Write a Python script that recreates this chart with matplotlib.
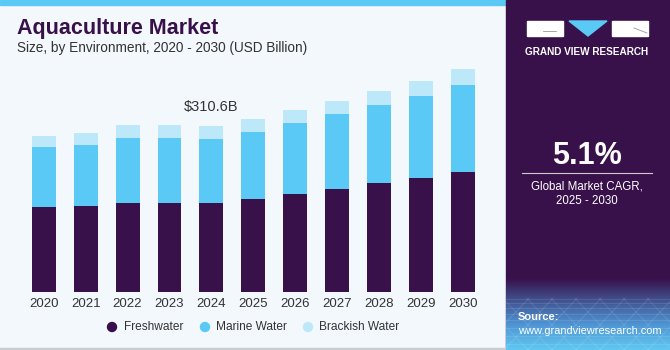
import matplotlib.pyplot as plt
import matplotlib.patches as mpatches
from matplotlib.colors import LinearSegmentedColormap
import numpy as np

years = ["2020", "2021", "2022", "2023", "2024", "2025", "2026", "2027", "2028", "2029", "2030"]
freshwater = [158.8, 161.2, 167.4, 167.4, 167.4, 174.9, 183.7, 193.6, 203.8, 214.3, 225.5]
marine = [112.5, 114.3, 121.8, 121.8, 120.0, 125.6, 132.5, 139.5, 146.8, 153.7, 162.0]
brackish = [21.2, 23.1, 23.2, 23.2, 23.2, 23.8, 24.9, 24.9, 26.8, 27.6, 30.0]
labels = ["Freshwater", "Marine Water", "Brackish Water"]
highlight_year = "2024"
highlight_text = "$310.6B"
cagr = "5.1%"

purple = "#38104A"
blue = "#5BC9F5"
light_blue = "#BDE8F9"
bg = "#F3F8FC"

plt.rcParams['font.family'] = ['Liberation Sans', 'DejaVu Sans']

W, H = 670, 350
fig = plt.figure(figsize=(W / 100, H / 100), dpi=100)
fig.patch.set_facecolor(bg)


def px(x, y):
    # pixel (from top-left) to figure fraction
    return x / W, 1 - y / H


# top stripe, right panel, bottom border
fig.patches.append(mpatches.Rectangle(px(0, 5), 506 / W, 5 / H, transform=fig.transFigure,
                                      color=blue, zorder=-2))
fig.patches.append(mpatches.Rectangle(px(506, 350), 164 / W, 1, transform=fig.transFigure,
                                      color=purple, zorder=-2))
fig.patches.append(mpatches.Rectangle(px(0, 350), 506 / W, 2 / H, transform=fig.transFigure,
                                      color="#C8CDD2", zorder=-1))

# gradient at bottom of right panel
grad_ax = fig.add_axes([506 / W, 0, 164 / W, 72 / H], zorder=1)
grad = np.linspace(0, 1, 100).reshape(-1, 1)
cmap = LinearSegmentedColormap.from_list(
    "g", [(0, "#60C8F2"), (0.35, "#4F95D4"), (0.7, "#41508E"), (1, purple)])
grad_ax.imshow(grad, aspect="auto", cmap=cmap, extent=[0, 1, 0, 1], origin="lower")
for k in np.linspace(-0.6, 1.6, 16):
    grad_ax.plot([k, k + 0.3], [0, 0.72], color="white", alpha=0.15, lw=0.6)
    grad_ax.plot([k, k - 0.3], [0, 0.72], color="white", alpha=0.12, lw=0.6)
for yy in [0.08, 0.2, 0.31, 0.41, 0.5, 0.58, 0.65, 0.71]:
    grad_ax.plot([0, 1], [yy, yy], color="white", alpha=0.12, lw=0.6)
grad_ax.set_xlim(0, 1)
grad_ax.set_ylim(0, 1)
grad_ax.axis("off")

# main chart axes
ax = fig.add_axes([20 / W, 58 / H, 470 / W, 232 / H])
ax.set_facecolor(bg)
x = np.arange(len(years))
ax.bar(x, freshwater, width=0.57, color=purple, label=labels[0])
ax.bar(x, marine, width=0.57, bottom=freshwater, color=blue, label=labels[1])
tops = np.array(freshwater) + np.array(marine)
ax.bar(x, brackish, width=0.57, bottom=tops, color=light_blue, label=labels[2])
ax.set_xlim(-0.565, 10.643)
ax.set_ylim(0, 232 * 1.8745)
ax.set_xticks(x)
ax.set_xticklabels(years, fontsize=9.5, color="#333333")
ax.tick_params(axis="x", length=0, pad=4)
ax.set_yticks([])
for s in ax.spines.values():
    s.set_visible(False)

i = years.index(highlight_year)
total = freshwater[i] + marine[i] + brackish[i]
ax.text(x[i], total + 36, highlight_text, ha="center", va="center", fontsize=10.5,
        color="#333333")

# title
fig.text(*px(17, 34), "Aquaculture Market", fontsize=15.5, fontweight="heavy", color=purple,
         va="baseline")
fig.text(*px(17, 52), "Size, by Environment, 2020 - 2030 (USD Billion)", fontsize=9.8,
         color="#333333", va="baseline")

# legend
for lx, tx, col, lab in [(112, 124, purple, labels[0]), (205, 216, blue, labels[1]),
                         (308, 319, light_blue, labels[2])]:
    fig.patches.append(mpatches.Ellipse(px(lx, 327), 9 / W, 9 / H, transform=fig.transFigure,
                                        color=col))
    fig.text(*px(tx, 327), lab, fontsize=8.6, color="#333333", va="center")

# logo
for bx in [527, 612]:
    fig.patches.append(mpatches.Rectangle(px(bx, 36), 36 / W, 15 / H, transform=fig.transFigure,
                                          color="white"))
fig.lines.append(plt.Line2D([543 / W, 556 / W], [1 - 31 / H, 1 - 31 / H],
                            transform=fig.transFigure, color="#999999", lw=0.6))
fig.lines.append(plt.Line2D([634 / W, 647 / W], [1 - 28 / H, 1 - 33 / H],
                            transform=fig.transFigure, color="#999999", lw=0.6))
fig.patches.append(mpatches.Polygon([px(569, 21), px(607, 21), px(588, 36)], closed=True,
                                    transform=fig.transFigure, color=blue))
fig.text(*px(587, 52), "GRAND VIEW RESEARCH", fontsize=7.2, fontweight="bold", color="white",
         ha="center", va="center")

# CAGR
fig.text(*px(587, 156), cagr, fontsize=22, fontweight="bold", color="white", ha="center",
         va="center")
fig.lines.append(plt.Line2D([522 / W, 652 / W], [1 - 173 / H, 1 - 173 / H],
                            transform=fig.transFigure, color="#CCCCCC", lw=0.8))
fig.text(*px(587, 186), "Global Market CAGR,", fontsize=8.3, color="white", ha="center",
         va="center")
fig.text(*px(587, 201), "2025 - 2030", fontsize=8.3, color="white", ha="center", va="center")

# source
fig.text(*px(518, 317), "Source:", fontsize=8, fontweight="bold", color="white", va="center",
         zorder=3)
fig.text(*px(518, 331), "www.grandviewresearch.com", fontsize=7.9, color="white", va="center",
         zorder=3)

fig.savefig("out.png", dpi=100, facecolor=fig.get_facecolor())
